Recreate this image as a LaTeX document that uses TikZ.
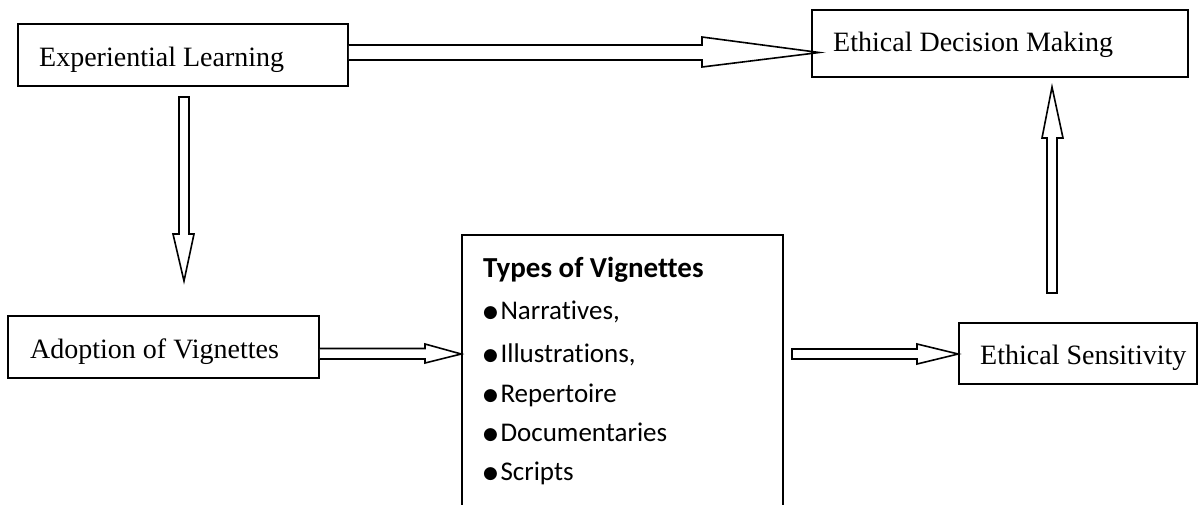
\documentclass[tikz,border=0pt]{standalone}
\usepackage{fontspec}
\setmainfont{Liberation Serif}
\newfontfamily\calfont[Ligatures=NoCommon]{Carlito}
\newfontfamily\dvfont{DejaVu Sans}
\usetikzlibrary{calc}
\newcommand{\bul}{\raisebox{1.8pt}{\dvfont\fontsize{17}{17}\selectfont ●}\hspace{2.5pt}}
\tikzset{
  box/.style={draw, line width=1.6pt, inner sep=0pt},
  blk/.style={draw, line width=1.6pt, fill=white, line join=miter},
  lbl/.style={inner sep=0pt, anchor=base west, font=\fontsize{28}{28}\selectfont},
  itm/.style={inner sep=0pt, anchor=base west, font=\calfont\fontsize{27}{27}\selectfont}
}
\begin{document}
\begin{tikzpicture}[x=1pt,y=-1pt]
\useasboundingbox (0,0) rectangle (1198,504);
\clip (0,0) rectangle (1198,504);
% boxes
\node[box, minimum width=330pt, minimum height=62pt] (exp) at (183,55) {};
\node[box, minimum width=376pt, minimum height=67pt] (dec) at (1000,43.5) {};
\node[box, minimum width=311pt, minimum height=62pt] (adopt) at (163.5,347) {};
\node[box, minimum width=238pt, minimum height=61pt] (sens) at (1078,353.5) {};
\node[box, minimum width=321pt, minimum height=290pt] (types) at (622.5,380) {};
% labels
\node[lbl] (expT) at (39,66) {Experiential Learning};
\node[lbl] (decT) at (833,51) {Ethical Decision Making};
\node[lbl] (adoptT) at (30,358) {Adoption of Vignettes};
\node[lbl] (sensT) at (980,364) {Ethical Sensitivity};
\node[itm, font=\calfont\bfseries\fontsize{29}{29}\selectfont] (t0) at (483,277) {Types of Vignettes};
\node[itm] (t1) at (483,319) {\bul Narratives,};
\node[itm] (t2) at (483,362) {\bul Illustrations,};
\node[itm] (t3) at (483,402) {\bul Repertoire};
\node[itm] (t4) at (483,441) {\bul Documentaries};
\node[itm] (t5) at (483,480) {\bul Scripts};
% block arrows
\draw[blk] (exp.east |- 0,45) -- (702,45) -- (702,37) -- ([xshift=8pt]dec.west |- 0,52.5) -- (702,67) -- (702,60) -- (exp.east |- 0,60);
\draw[blk] (179,97) -- (189,97) -- (189,234) -- (194,234) -- (184,281) -- (173,234) -- (179,234) -- cycle;
\draw[blk] (1047,293) -- (1057,293) -- (1057,138) -- (1063,138) -- (1052,87) -- (1042,138) -- (1047,138) -- cycle;
\draw[blk] (adopt.east |- 0,348.5) -- (425,348.5) -- (425,344) -- (types.west |- 0,354) -- (425,363) -- (425,359) -- (adopt.east |- 0,359);
\draw[blk] (792,349) -- (917,349) -- (917,344) -- (sens.west |- 0,354) -- (917,364) -- (917,359) -- (792,359) -- cycle;
\end{tikzpicture}
\end{document}
